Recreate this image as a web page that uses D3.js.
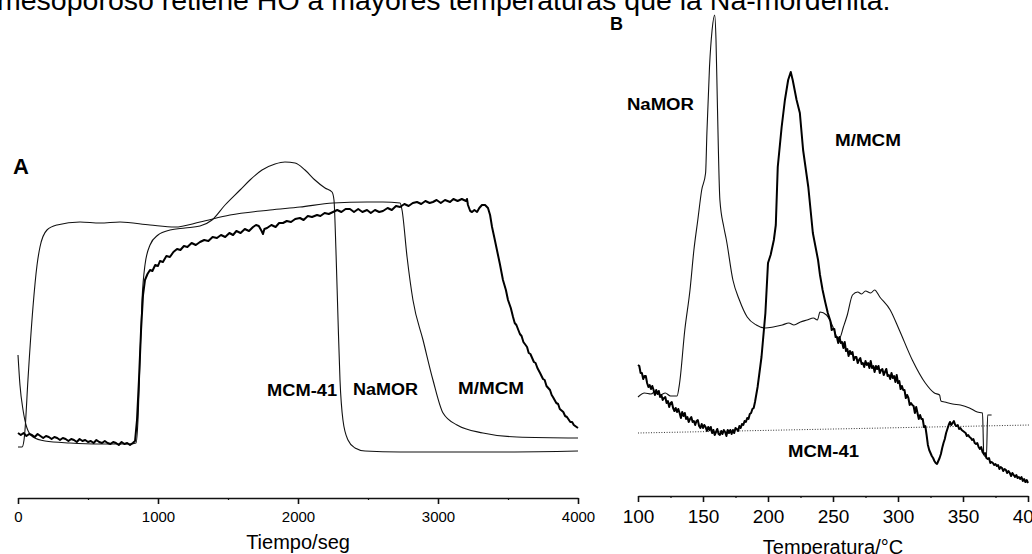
<!DOCTYPE html>
<html>
<head>
<meta charset="utf-8">
<script src="https://cdn.jsdelivr.net/npm/d3@7"></script>
<style>
  body { margin: 0; background: #fff; }
  svg { display: block; }
  text { font-family: "Liberation Sans", Arial, sans-serif; fill: #000; }
</style>
</head>
<body>
<div id="chart-area"></div>
<script>
// caption and panel titles
var caption = "mesoporoso retiene HO a mayores temperaturas que la Na-mordenita.";
var panelLetters = ["A", "B"];
var axisTitles = ["Tiempo/seg", "Temperatura/°C"];

// tick labels
var ticksA = [0, 1000, 2000, 3000, 4000];
var minorA = [500, 1500, 2500, 3500];
var ticksB = [100, 150, 200, 250, 300, 350, 400];
var minorB = [125, 175, 225, 275, 325, 375];

// panel A : [tiempo (s), señal]
var mcmA = [[0,105],[14,75],[36,50],[64,32],[107,23],[193,19],[371,17],[586,16],[800,16],[843,17],[857,40],[871,100],[886,160],[907,195],[943,215],[1000,225],[1086,230],[1193,232],[1300,234],[1386,240],[1479,255],[1586,270],[1657,280],[1743,290],[1836,296],[1907,298],[1979,297],[2050,290],[2121,280],[2193,272],[2243,268],[2257,260],[2271,210],[2286,140],[2300,80],[2321,40],[2357,20],[2407,12],[2479,9],[2729,8],[3443,8],[4000,9]];

var namorA = [[0,13],[29,13],[43,20],[50,30],[71,80],[107,153],[136,195],[157,213],[207,230],[279,235],[443,238],[586,237],[729,238],[943,235],[1121,233],[1300,238],[1514,245],[1800,250],[2014,253],[2250,257],[2493,258],[2607,258],[2729,257],[2743,250],[2779,203],[2821,160],[2893,120],[2964,80],[3036,47],[3136,35],[3321,27],[3564,23],[4000,22]];

var mmcmA = [[0,27],[20,25],[40,27],[60,24],[80,26],[100,25],[120,23],[140,26],[160,24],[180,22],[200,24],[220,23],[240,21],[260,23],[280,22],[300,20],[320,22],[340,21],[360,19],[380,21],[400,20],[420,18],[440,21],[460,19],[480,20],[500,18],[520,19],[540,17],[560,20],[580,18],[600,17],[620,19],[640,17],[660,16],[680,18],[700,17],[720,15],[740,18],[760,16],[780,17],[800,15],[820,17],[836,19],[850,40],[864,80],[879,130],[893,165],[907,180],[925,186],[943,190],[960,189],[980,195],[1000,194],[1014,199],[1035,198],[1060,204],[1085,203],[1110,208],[1136,211],[1160,210],[1185,214],[1210,213],[1240,217],[1270,215],[1300,218],[1330,220],[1360,219],[1390,223],[1421,222],[1450,225],[1480,223],[1510,227],[1536,225],[1560,229],[1590,227],[1620,231],[1650,229],[1679,233],[1700,235],[1720,234],[1740,229],[1750,226],[1760,231],[1779,232],[1810,235],[1840,233],[1865,237],[1893,237],[1920,239],[1950,238],[1980,241],[2014,242],[2040,240],[2070,244],[2100,243],[2136,245],[2160,244],[2190,247],[2220,246],[2250,248],[2280,250],[2310,248],[2340,251],[2371,251],[2400,248],[2430,251],[2460,248],[2493,250],[2520,247],[2550,250],[2580,248],[2607,249],[2640,252],[2670,250],[2700,254],[2729,253],[2760,256],[2790,254],[2820,257],[2850,258],[2880,256],[2910,259],[2940,257],[2964,258],[2990,260],[3020,257],[3050,260],[3086,258],[3110,261],[3140,259],[3170,261],[3200,259],[3207,261],[3214,255],[3230,249],[3243,248],[3260,250],[3279,248],[3295,252],[3314,255],[3336,255],[3357,252],[3372,245],[3386,233],[3403,222],[3421,210],[3442,196],[3464,180],[3485,170],[3500,160],[3520,152],[3536,143],[3548,137],[3560,135],[3585,126],[3597,124],[3610,118],[3636,113],[3648,107],[3660,106],[3685,98],[3697,97],[3710,92],[3729,87],[3750,81],[3762,80],[3775,74],[3800,70],[3812,65],[3821,63],[3845,57],[3858,56],[3870,51],[3895,48],[3908,44],[3921,43],[3945,38],[3958,38],[3970,35],[4000,32]];

// panel B : [temperatura (°C), señal]
var namorB = [[100,83],[105,87],[110,86],[114,89],[117,85],[121,87],[125,84],[130,84],[132,97],[136,150],[140,190],[143,230],[146,260],[149,290],[152,307],[153,347],[155,413],[157,450],[159,465],[160,440],[161,380],[163,280],[166,253],[168,240],[173,200],[178,180],[184,163],[191,155],[198,152],[204,153],[211,155],[216,157],[220,155],[225,158],[230,160],[235,162],[238,160],[240,168],[245,165],[250,153],[253,143],[255,142],[258,153],[261,165],[265,185],[269,188],[272,186],[275,189],[279,187],[282,190],[286,183],[294,170],[301,150],[311,120],[321,97],[328,87],[332,85],[333,79],[336,78],[342,76],[348,75],[355,72],[361,68],[365,67],[366,25],[368,23],[369,65],[372,65]];

var mmcmB = [[100,115],[101,114],[102,107],[103,107],[104,101],[105,104],[106,104],[107,97],[108,93],[109,95],[110,91],[111,94],[112,90],[113,85],[114,90],[115,86],[116,89],[117,83],[118,85],[119,80],[120,82],[121,83],[122,77],[123,79],[124,73],[125,77],[126,78],[127,72],[128,69],[129,72],[130,68],[131,71],[132,67],[133,62],[134,68],[135,64],[136,67],[137,61],[138,63],[139,58],[140,61],[141,63],[142,58],[143,59],[144,55],[145,59],[146,60],[147,54],[148,52],[149,56],[150,52],[151,55],[152,53],[153,49],[154,53],[155,50],[156,53],[157,47],[158,50],[159,45],[160,48],[161,51],[162,46],[163,45],[164,49],[165,46],[166,50],[167,48],[168,44],[169,50],[170,47],[171,50],[172,46],[173,50],[174,47],[175,52],[176,51],[177,49],[178,54],[179,52],[180,56],[181,55],[182,59],[183,58],[184,62],[185,61],[186,66],[187,67],[188,71],[189,72],[190,78],[192,93],[195,123],[198,167],[200,217],[202,225],[204.5,240],[206,255],[207.5,313],[210.5,353],[213,380],[215.5,400],[217.5,408],[219,400],[222,380],[224.5,367],[227,330],[231,293],[234.5,247],[238.5,220],[240,205],[242,190],[244,178],[246,167],[248,159],[249,150],[250,151],[251,151],[252,143],[253,143],[254,137],[255,143],[256,137],[257,138],[258,132],[259,138],[260,129],[261,131],[262,124],[263,129],[264,126],[265,128],[266,120],[267,123],[268,123],[269,117],[270,120],[271,122],[272,116],[273,117],[274,113],[275,119],[276,115],[277,117],[278,112],[279,119],[280,112],[281,114],[282,108],[283,114],[284,111],[285,114],[286,107],[287,110],[288,111],[289,105],[290,108],[291,111],[292,104],[293,105],[294,101],[295,107],[296,102],[297,104],[298,98],[299,105],[300,97],[301,99],[302,91],[303,94],[304,90],[305,90],[306,82],[307,85],[308,82],[309,75],[310,77],[311,75],[312,74],[313,67],[314,73],[315,67],[316,61],[317,65],[318,61],[319,61],[320,53],[321,54],[322,45],[323,35],[324,30],[325,27],[326,24],[327,22],[328,19],[329,17],[330,16],[331,19],[332,22],[333,26],[334,32],[335,37],[336,41],[337,47],[338,51],[339,55],[340,58],[341,55],[342,57],[343,59],[344,55],[345,54],[346,55],[347,51],[348,52],[349,50],[350,49],[351,48],[352,47],[353,44],[354,45],[355,43],[356,42],[357,40],[358,41],[359,37],[360,36],[361,37],[362,33],[363,31],[364,33],[365,28],[366,26],[367,27],[368,22],[369,21],[370,22],[371,17],[372,18],[373,17],[374,15],[375,16],[376,14],[377,15],[378,11],[379,13],[380,12],[381,9],[382,11],[383,10],[384,7],[385,9],[386,7],[387,4],[388,7],[389,5],[390,3],[391,5],[392,2],[393,3],[394,1],[395,3],[396,-1],[397,1],[398,-2],[399,0],[400,-3]];

var mcmB = [[100,47],[401.5,55]];

// series labels [x, y, text, width]
var labelsA = [[1779, 64, "MCM-41", 70], [2393, 65, "NaMOR", 65], [3143, 66, "M/MCM", 66]];
var labelsB = [[91.5, 370, "NaMOR", 67], [251.5, 334, "M/MCM", 66], [215.4, 23, "MCM-41", 71]];

var svg = d3.select("#chart-area").append("svg")
	.attr("width", 1032)
	.attr("height", 554);

// caption (cut at the top)
svg.append("text")
	.attr("x", -3)
	.attr("y", 10)
	.attr("font-size", 28.5)
	.text(caption);

// scales
var xA = d3.scaleLinear().domain([0, 4000]).range([18, 578]);
var yA = d3.scaleLinear().domain([0, 300]).range([460, 160]);
var xB = d3.scaleLinear().domain([100, 400]).range([638, 1028]);
var yB = d3.scaleLinear().domain([0, 450]).range([480, 30]);

function drawAxis(g, x, ticks, minor, fontSize, pad) {
	var ax = g.append("g").call(d3.axisBottom(x).tickValues(ticks).tickSize(6).tickSizeOuter(0).tickPadding(pad).tickFormat(d3.format("d")));
	ax.select(".domain").attr("stroke", "#111").attr("stroke-width", 1.6);
	ax.selectAll(".tick line").attr("stroke", "#111").attr("stroke-width", 1.6);
	ax.selectAll(".tick text").attr("font-size", fontSize).attr("font-family", "Liberation Sans, Arial, sans-serif").attr("fill", "#000");
	var mi = g.append("g").call(d3.axisBottom(x).tickValues(minor).tickSize(2).tickFormat(""));
	mi.select(".domain").remove();
	mi.selectAll(".tick line").attr("stroke", "#111").attr("stroke-width", 1.2);
}

// ---------- panel A ----------
var gA = svg.append("g");
drawAxis(gA.append("g").attr("transform", "translate(0,498)"), xA, ticksA, minorA, 15, 7);

var lineA = d3.line().x(d => xA(d[0])).y(d => yA(d[1]));

gA.append("path").datum(mcmA).attr("d", lineA.curve(d3.curveMonotoneX))
	.attr("fill", "none").attr("stroke", "#111").attr("stroke-width", 1.1);
gA.append("path").datum(namorA).attr("d", lineA.curve(d3.curveMonotoneX))
	.attr("fill", "none").attr("stroke", "#111").attr("stroke-width", 1.1);
gA.append("path").datum(mmcmA).attr("d", lineA.curve(d3.curveLinear))
	.attr("fill", "none").attr("stroke", "#000").attr("stroke-width", 2)
	.attr("stroke-linejoin", "round");

gA.selectAll(".lab").data(labelsA).enter().append("text")
	.attr("x", d => xA(d[0])).attr("y", d => yA(d[1]))
	.attr("font-size", 16).attr("font-weight", "bold")
	.attr("textLength", d => d[3]).attr("lengthAdjust", "spacingAndGlyphs")
	.text(d => d[2]);

gA.append("text").attr("x", 13).attr("y", 174)
	.attr("font-size", 22).attr("font-weight", "bold").text(panelLetters[0]);

gA.append("text").attr("x", (xA(0) + xA(4000)) / 2).attr("y", 549)
	.attr("text-anchor", "middle").attr("font-size", 20).text(axisTitles[0]);

// ---------- panel B ----------
var gB = svg.append("g");
drawAxis(gB.append("g").attr("transform", "translate(0,496)"), xB, ticksB, minorB, 19, 7.5);

var lineB = d3.line().x(d => xB(d[0])).y(d => yB(d[1]));

gB.append("path").datum(mcmB).attr("d", lineB.curve(d3.curveLinear))
	.attr("fill", "none").attr("stroke", "#333").attr("stroke-width", 1).attr("stroke-dasharray", "1,1.6");
gB.append("path").datum(namorB).attr("d", lineB.curve(d3.curveMonotoneX))
	.attr("fill", "none").attr("stroke", "#111").attr("stroke-width", 1.1);
gB.append("path").datum(mmcmB).attr("d", lineB.curve(d3.curveLinear))
	.attr("fill", "none").attr("stroke", "#000").attr("stroke-width", 2)
	.attr("stroke-linejoin", "round");

gB.selectAll(".lab").data(labelsB).enter().append("text")
	.attr("x", d => xB(d[0])).attr("y", d => yB(d[1]))
	.attr("font-size", 16).attr("font-weight", "bold")
	.attr("textLength", d => d[3]).attr("lengthAdjust", "spacingAndGlyphs")
	.text(d => d[2]);

gB.append("text").attr("x", 610).attr("y", 30)
	.attr("font-size", 18).attr("font-weight", "bold").text(panelLetters[1]);

gB.append("text").attr("x", 833).attr("y", 554)
	.attr("text-anchor", "middle").attr("font-size", 20).text(axisTitles[1]);
</script>
</body>
</html>
